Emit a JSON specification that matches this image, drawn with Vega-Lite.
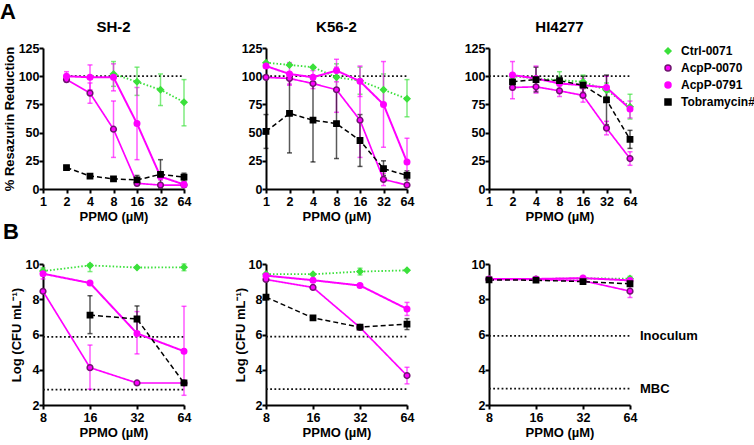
{
"$schema":"https://vega.github.io/schema/vega-lite/v6.json",
"background":"white",
"padding":{"left":0,"top":1,"right":2,"bottom":0},
"title":{"text":"A","anchor":"start","frame":"bounds","fontSize":22,"offset":-4,"dx":-3},
"data":{"name":"pts"},
"datasets":{
"pts":[
{"p":"A1","s":"Ctrl-0071","x":8,"y":102,"lo":91,"hi":113},
{"p":"A1","s":"Ctrl-0071","x":16,"y":95,"lo":83,"hi":108},
{"p":"A1","s":"Ctrl-0071","x":32,"y":88,"lo":74,"hi":102},
{"p":"A1","s":"Ctrl-0071","x":64,"y":77,"lo":56,"hi":97},
{"p":"A1","s":"AcpP-0070","x":2,"y":97,"lo":95,"hi":99},
{"p":"A1","s":"AcpP-0070","x":4,"y":85,"lo":76,"hi":94},
{"p":"A1","s":"AcpP-0070","x":8,"y":53,"lo":28,"hi":78},
{"p":"A1","s":"AcpP-0070","x":16,"y":5,"lo":3,"hi":7},
{"p":"A1","s":"AcpP-0070","x":32,"y":3.5},
{"p":"A1","s":"AcpP-0070","x":64,"y":3.5},
{"p":"A1","s":"AcpP-0791","x":2,"y":100,"lo":96,"hi":104},
{"p":"A1","s":"AcpP-0791","x":4,"y":99,"lo":88,"hi":110},
{"p":"A1","s":"AcpP-0791","x":8,"y":99,"lo":87,"hi":111},
{"p":"A1","s":"AcpP-0791","x":16,"y":58,"lo":26,"hi":90},
{"p":"A1","s":"AcpP-0791","x":32,"y":11,"lo":8,"hi":14},
{"p":"A1","s":"AcpP-0791","x":64,"y":4,"lo":2,"hi":6},
{"p":"A1","s":"Tobramycin#","x":2,"y":19},
{"p":"A1","s":"Tobramycin#","x":4,"y":11.5},
{"p":"A1","s":"Tobramycin#","x":8,"y":9},
{"p":"A1","s":"Tobramycin#","x":16,"y":8,"lo":4,"hi":12},
{"p":"A1","s":"Tobramycin#","x":32,"y":13,"lo":1,"hi":26},
{"p":"A1","s":"Tobramycin#","x":64,"y":10.5,"lo":7,"hi":14},

{"p":"A2","s":"Ctrl-0071","x":1,"y":112},
{"p":"A2","s":"Ctrl-0071","x":2,"y":110},
{"p":"A2","s":"Ctrl-0071","x":4,"y":108},
{"p":"A2","s":"Ctrl-0071","x":8,"y":99,"lo":87,"hi":111},
{"p":"A2","s":"Ctrl-0071","x":16,"y":96,"lo":84,"hi":108},
{"p":"A2","s":"Ctrl-0071","x":32,"y":88,"lo":74,"hi":102},
{"p":"A2","s":"Ctrl-0071","x":64,"y":80,"lo":64,"hi":97},
{"p":"A2","s":"AcpP-0070","x":1,"y":99},
{"p":"A2","s":"AcpP-0070","x":2,"y":98,"lo":93,"hi":103},
{"p":"A2","s":"AcpP-0070","x":4,"y":93.5,"lo":89,"hi":98},
{"p":"A2","s":"AcpP-0070","x":8,"y":88,"lo":68,"hi":108},
{"p":"A2","s":"AcpP-0070","x":16,"y":61,"lo":28,"hi":94},
{"p":"A2","s":"AcpP-0070","x":32,"y":8.5,"lo":3,"hi":14},
{"p":"A2","s":"AcpP-0070","x":64,"y":3.5},
{"p":"A2","s":"AcpP-0791","x":1,"y":109},
{"p":"A2","s":"AcpP-0791","x":2,"y":102,"lo":92,"hi":112},
{"p":"A2","s":"AcpP-0791","x":4,"y":99,"lo":93,"hi":105},
{"p":"A2","s":"AcpP-0791","x":8,"y":105,"lo":95,"hi":115},
{"p":"A2","s":"AcpP-0791","x":16,"y":95.5,"lo":82,"hi":109},
{"p":"A2","s":"AcpP-0791","x":32,"y":75,"lo":37,"hi":113},
{"p":"A2","s":"AcpP-0791","x":64,"y":24,"lo":3,"hi":45},
{"p":"A2","s":"Tobramycin#","x":1,"y":51,"lo":36,"hi":66},
{"p":"A2","s":"Tobramycin#","x":2,"y":67,"lo":32,"hi":102},
{"p":"A2","s":"Tobramycin#","x":4,"y":61,"lo":24,"hi":98},
{"p":"A2","s":"Tobramycin#","x":8,"y":58,"lo":27,"hi":89},
{"p":"A2","s":"Tobramycin#","x":16,"y":43,"lo":20,"hi":66},
{"p":"A2","s":"Tobramycin#","x":32,"y":18,"lo":12,"hi":25},
{"p":"A2","s":"Tobramycin#","x":64,"y":12,"lo":8,"hi":16},

{"p":"A3","s":"Ctrl-0071","x":2,"y":100},
{"p":"A3","s":"Ctrl-0071","x":4,"y":98},
{"p":"A3","s":"Ctrl-0071","x":8,"y":96.5,"lo":89,"hi":104},
{"p":"A3","s":"Ctrl-0071","x":16,"y":95,"lo":89,"hi":101},
{"p":"A3","s":"Ctrl-0071","x":32,"y":87.6,"lo":82,"hi":94},
{"p":"A3","s":"Ctrl-0071","x":64,"y":73,"lo":62,"hi":84},
{"p":"A3","s":"AcpP-0070","x":2,"y":90,"lo":80,"hi":100},
{"p":"A3","s":"AcpP-0070","x":4,"y":90.6,"lo":85,"hi":96},
{"p":"A3","s":"AcpP-0070","x":8,"y":87,"lo":82,"hi":92},
{"p":"A3","s":"AcpP-0070","x":16,"y":83,"lo":77,"hi":89},
{"p":"A3","s":"AcpP-0070","x":32,"y":54,"lo":48,"hi":60},
{"p":"A3","s":"AcpP-0070","x":64,"y":27,"lo":21,"hi":33},
{"p":"A3","s":"AcpP-0791","x":2,"y":101,"lo":88,"hi":113},
{"p":"A3","s":"AcpP-0791","x":4,"y":98,"lo":87,"hi":109},
{"p":"A3","s":"AcpP-0791","x":8,"y":93.5,"lo":89,"hi":98},
{"p":"A3","s":"AcpP-0791","x":16,"y":92,"lo":86,"hi":98},
{"p":"A3","s":"AcpP-0791","x":32,"y":90,"lo":80,"hi":100},
{"p":"A3","s":"AcpP-0791","x":64,"y":71,"lo":63,"hi":78},
{"p":"A3","s":"Tobramycin#","x":2,"y":95,"lo":91,"hi":99},
{"p":"A3","s":"Tobramycin#","x":4,"y":97,"lo":86,"hi":108},
{"p":"A3","s":"Tobramycin#","x":8,"y":96,"lo":93,"hi":99},
{"p":"A3","s":"Tobramycin#","x":16,"y":92,"lo":84,"hi":100},
{"p":"A3","s":"Tobramycin#","x":32,"y":79,"lo":57,"hi":101},
{"p":"A3","s":"Tobramycin#","x":64,"y":44,"lo":36,"hi":52},

{"p":"B1","s":"Ctrl-0071","x":8,"y":9.6,"lo":9.45,"hi":9.78},
{"p":"B1","s":"Ctrl-0071","x":16,"y":9.92,"lo":9.57,"hi":10},
{"p":"B1","s":"Ctrl-0071","x":32,"y":9.8},
{"p":"B1","s":"Ctrl-0071","x":64,"y":9.81,"lo":9.62,"hi":10},
{"p":"B1","s":"AcpP-0070","x":8,"y":8.45},
{"p":"B1","s":"AcpP-0070","x":16,"y":4.12,"lo":2.9,"hi":5.4},
{"p":"B1","s":"AcpP-0070","x":32,"y":3.25},
{"p":"B1","s":"AcpP-0070","x":64,"y":3.25},
{"p":"B1","s":"AcpP-0791","x":8,"y":9.45,"lo":9.15,"hi":9.7},
{"p":"B1","s":"AcpP-0791","x":16,"y":8.92,"lo":8.85,"hi":9.0},
{"p":"B1","s":"AcpP-0791","x":32,"y":6.06,"lo":4.9,"hi":7.3},
{"p":"B1","s":"AcpP-0791","x":64,"y":5.05,"lo":2.55,"hi":7.6},
{"p":"B1","s":"Tobramycin#","x":16,"y":7.1,"lo":6.05,"hi":8.2},
{"p":"B1","s":"Tobramycin#","x":32,"y":6.88,"lo":6.15,"hi":7.62},
{"p":"B1","s":"Tobramycin#","x":64,"y":3.25},

{"p":"B2","s":"Ctrl-0071","x":8,"y":9.43},
{"p":"B2","s":"Ctrl-0071","x":16,"y":9.42},
{"p":"B2","s":"Ctrl-0071","x":32,"y":9.57,"lo":9.38,"hi":9.76},
{"p":"B2","s":"Ctrl-0071","x":64,"y":9.64},
{"p":"B2","s":"AcpP-0070","x":8,"y":9.12},
{"p":"B2","s":"AcpP-0070","x":16,"y":8.67,"lo":8.6,"hi":8.75},
{"p":"B2","s":"AcpP-0070","x":32,"y":6.4},
{"p":"B2","s":"AcpP-0070","x":64,"y":3.67,"lo":3.2,"hi":4.14},
{"p":"B2","s":"AcpP-0791","x":8,"y":9.34},
{"p":"B2","s":"AcpP-0791","x":16,"y":9.08},
{"p":"B2","s":"AcpP-0791","x":32,"y":8.78},
{"p":"B2","s":"AcpP-0791","x":64,"y":7.45,"lo":7.08,"hi":7.82},
{"p":"B2","s":"Tobramycin#","x":8,"y":8.12},
{"p":"B2","s":"Tobramycin#","x":16,"y":6.94},
{"p":"B2","s":"Tobramycin#","x":32,"y":6.42},
{"p":"B2","s":"Tobramycin#","x":64,"y":6.59,"lo":6.28,"hi":6.9},

{"p":"B3","s":"Ctrl-0071","x":8,"y":9.15},
{"p":"B3","s":"Ctrl-0071","x":16,"y":9.15},
{"p":"B3","s":"Ctrl-0071","x":32,"y":9.18},
{"p":"B3","s":"Ctrl-0071","x":64,"y":9.17,"lo":9.05,"hi":9.3},
{"p":"B3","s":"AcpP-0070","x":8,"y":9.12},
{"p":"B3","s":"AcpP-0070","x":16,"y":9.12},
{"p":"B3","s":"AcpP-0070","x":32,"y":9.05},
{"p":"B3","s":"AcpP-0070","x":64,"y":8.46,"lo":8.1,"hi":8.8},
{"p":"B3","s":"AcpP-0791","x":8,"y":9.15},
{"p":"B3","s":"AcpP-0791","x":16,"y":9.15},
{"p":"B3","s":"AcpP-0791","x":32,"y":9.2},
{"p":"B3","s":"AcpP-0791","x":64,"y":9.07},
{"p":"B3","s":"Tobramycin#","x":8,"y":9.1},
{"p":"B3","s":"Tobramycin#","x":16,"y":9.08},
{"p":"B3","s":"Tobramycin#","x":32,"y":9.0},
{"p":"B3","s":"Tobramycin#","x":64,"y":8.88,"lo":8.75,"hi":9.0}
],
"refs":[
{"p":"A1","x":2,"xe":64,"y":100},
{"p":"A2","x":1,"xe":64,"y":100},
{"p":"A3","x":1,"xe":64,"y":100},
{"p":"B1","x":8,"xe":64,"y":5.87},
{"p":"B1","x":8,"xe":64,"y":2.87},
{"p":"B2","x":8,"xe":64,"y":5.88},
{"p":"B2","x":8,"xe":64,"y":2.9},
{"p":"B3","x":8,"xe":64,"y":5.92,"lab":"Inoculum"},
{"p":"B3","x":8,"xe":64,"y":2.93,"lab":"MBC"}
]
},
"columns":3,
"bounds":"flush",
"spacing":{"row":75,"column":82},
"resolve":{
"scale":{"color":"independent","fill":"independent","stroke":"independent","shape":"independent","size":"independent","strokeDash":"independent","strokeWidth":"independent"},
"legend":{"color":"independent","fill":"independent","stroke":"independent","shape":"independent","size":"independent","strokeDash":"independent","strokeWidth":"independent"}
},
"concat":[
{
"width":141,"height":141,
"title":{"text":"SH-2","fontSize":15,"offset":7},
"encoding":{
"x":{"field":"x","type":"quantitative","scale":{"type":"log","base":2,"domain":[1,64],"nice":false},"axis":{"values":[1,2,4,8,16,32,64],"format":"d","title":"PPMO (µM)"}},
"y":{"field":"y","type":"quantitative","scale":{"domain":[0,125],"nice":false,"zero":false},"axis":{"values":[0,25,50,75,100,125],"title":"% Resazurin Reduction"}}
},
"layer":[
{"data":{"name":"refs"},"transform":[{"filter":"datum.p=='A1'"}],"mark":{"type":"rule","strokeDash":[1.8,2.4],"strokeWidth":1.8,"color":"#111111"},"encoding":{"x2":{"field":"xe"}}},
{"transform":[{"filter":"datum.p=='A1' && isValid(datum.lo)"}],"mark":{"type":"errorbar","ticks":true,"thickness":1.5,"opacity":0.65},
"encoding":{"y":{"field":"lo","type":"quantitative","scale":{"domain":[0,125],"nice":false,"zero":false},"axis":{"values":[0,25,50,75,100,125],"title":"% Resazurin Reduction"}},"y2":{"field":"hi"},
"color":{"field":"s","type":"nominal","scale":{"domain":["Tobramycin#","Ctrl-0071","AcpP-0070","AcpP-0791"],"range":["#000000","#3be03b","#ff00ff","#ff00ff"]},"legend":null}}},
{"transform":[{"filter":"datum.p=='A1'"}],"mark":{"type":"line"},
"encoding":{"color":{"field":"s","type":"nominal","scale":{"domain":["Tobramycin#","Ctrl-0071","AcpP-0070","AcpP-0791"],"range":["#000000","#3be03b","#ff00ff","#ff00ff"]},"legend":null},
"strokeDash":{"field":"s","type":"nominal","scale":{"domain":["AcpP-0070","Ctrl-0071","AcpP-0791","Tobramycin#"],"range":[[1,0],[1.5,2],[1,0],[5,3]]},"legend":null},
"strokeWidth":{"field":"s","type":"ordinal","scale":{"domain":["AcpP-0791","Ctrl-0071","AcpP-0070","Tobramycin#"],"range":[2,1.5,2,2]},"legend":null}}},
{"transform":[{"filter":"datum.p=='A1'"}],"mark":{"type":"point","filled":true,"opacity":1,"strokeWidth":1.5},
"encoding":{"fill":{"field":"s","type":"nominal","scale":{"domain":["Ctrl-0071","AcpP-0070","AcpP-0791","Tobramycin#"],"range":["#3be03b","#ff00ff","#ff00ff","#000000"]},"legend":null},
"stroke":{"field":"s","type":"nominal","scale":{"domain":["Ctrl-0071","AcpP-0070","AcpP-0791","Tobramycin#"],"range":["#3be03b","#701570","#ff00ff","#000000"]},"legend":null},
"shape":{"field":"s","type":"nominal","scale":{"domain":["Ctrl-0071","AcpP-0070","AcpP-0791","Tobramycin#"],"range":["diamond","circle","circle","square"]},"legend":null},
"size":{"field":"s","type":"ordinal","scale":{"domain":["Tobramycin#","AcpP-0791","AcpP-0070","Ctrl-0071"],"range":[28,35,50,25]},"legend":null}}}
]
},
{
"width":141,"height":141,
"title":{"text":"K56-2","fontSize":15,"offset":7},
"encoding":{
"x":{"field":"x","type":"quantitative","scale":{"type":"log","base":2,"domain":[1,64],"nice":false},"axis":{"values":[1,2,4,8,16,32,64],"format":"d","title":"PPMO (µM)"}},
"y":{"field":"y","type":"quantitative","scale":{"domain":[0,125],"nice":false,"zero":false},"axis":{"values":[0,25,50,75,100,125],"title":null}}
},
"layer":[
{"data":{"name":"refs"},"transform":[{"filter":"datum.p=='A2'"}],"mark":{"type":"rule","strokeDash":[1.8,2.4],"strokeWidth":1.8,"color":"#111111"},"encoding":{"x2":{"field":"xe"}}},
{"transform":[{"filter":"datum.p=='A2' && isValid(datum.lo)"}],"mark":{"type":"errorbar","ticks":true,"thickness":1.5,"opacity":0.65},
"encoding":{"y":{"field":"lo","type":"quantitative","scale":{"domain":[0,125],"nice":false,"zero":false},"axis":{"values":[0,25,50,75,100,125],"title":null}},"y2":{"field":"hi"},
"color":{"field":"s","type":"nominal","scale":{"domain":["Tobramycin#","Ctrl-0071","AcpP-0070","AcpP-0791"],"range":["#000000","#3be03b","#ff00ff","#ff00ff"]},"legend":null}}},
{"transform":[{"filter":"datum.p=='A2'"}],"mark":{"type":"line"},
"encoding":{"color":{"field":"s","type":"nominal","scale":{"domain":["Tobramycin#","Ctrl-0071","AcpP-0070","AcpP-0791"],"range":["#000000","#3be03b","#ff00ff","#ff00ff"]},"legend":null},
"strokeDash":{"field":"s","type":"nominal","scale":{"domain":["AcpP-0070","Ctrl-0071","AcpP-0791","Tobramycin#"],"range":[[1,0],[1.5,2],[1,0],[5,3]]},"legend":null},
"strokeWidth":{"field":"s","type":"ordinal","scale":{"domain":["AcpP-0791","Ctrl-0071","AcpP-0070","Tobramycin#"],"range":[2,1.5,2,2]},"legend":null}}},
{"transform":[{"filter":"datum.p=='A2'"}],"mark":{"type":"point","filled":true,"opacity":1,"strokeWidth":1.5},
"encoding":{"fill":{"field":"s","type":"nominal","scale":{"domain":["Ctrl-0071","AcpP-0070","AcpP-0791","Tobramycin#"],"range":["#3be03b","#ff00ff","#ff00ff","#000000"]},"legend":null},
"stroke":{"field":"s","type":"nominal","scale":{"domain":["Ctrl-0071","AcpP-0070","AcpP-0791","Tobramycin#"],"range":["#3be03b","#701570","#ff00ff","#000000"]},"legend":null},
"shape":{"field":"s","type":"nominal","scale":{"domain":["Ctrl-0071","AcpP-0070","AcpP-0791","Tobramycin#"],"range":["diamond","circle","circle","square"]},"legend":null},
"size":{"field":"s","type":"ordinal","scale":{"domain":["Tobramycin#","AcpP-0791","AcpP-0070","Ctrl-0071"],"range":[28,35,50,25]},"legend":null}}}
]
},
{
"width":141,"height":141,
"title":{"text":"HI4277","fontSize":15,"offset":7},
"encoding":{
"x":{"field":"x","type":"quantitative","scale":{"type":"log","base":2,"domain":[1,64],"nice":false},"axis":{"values":[1,2,4,8,16,32,64],"format":"d","title":"PPMO (µM)"}},
"y":{"field":"y","type":"quantitative","scale":{"domain":[0,125],"nice":false,"zero":false},"axis":{"values":[0,25,50,75,100,125],"title":null}}
},
"layer":[
{"data":{"name":"refs"},"transform":[{"filter":"datum.p=='A3'"}],"mark":{"type":"rule","strokeDash":[1.8,2.4],"strokeWidth":1.8,"color":"#111111"},"encoding":{"x2":{"field":"xe"}}},
{"transform":[{"filter":"datum.p=='A3' && isValid(datum.lo)"}],"mark":{"type":"errorbar","ticks":true,"thickness":1.5,"opacity":0.65},
"encoding":{"y":{"field":"lo","type":"quantitative","scale":{"domain":[0,125],"nice":false,"zero":false},"axis":{"values":[0,25,50,75,100,125],"title":null}},"y2":{"field":"hi"},
"color":{"field":"s","type":"nominal","scale":{"domain":["Tobramycin#","Ctrl-0071","AcpP-0070","AcpP-0791"],"range":["#000000","#3be03b","#ff00ff","#ff00ff"]},"legend":null}}},
{"transform":[{"filter":"datum.p=='A3'"}],"mark":{"type":"line"},
"encoding":{"color":{"field":"s","type":"nominal","scale":{"domain":["Tobramycin#","Ctrl-0071","AcpP-0070","AcpP-0791"],"range":["#000000","#3be03b","#ff00ff","#ff00ff"]},"legend":null},
"strokeDash":{"field":"s","type":"nominal","scale":{"domain":["AcpP-0070","Ctrl-0071","AcpP-0791","Tobramycin#"],"range":[[1,0],[1.5,2],[1,0],[5,3]]},"legend":null},
"strokeWidth":{"field":"s","type":"ordinal","scale":{"domain":["AcpP-0791","Ctrl-0071","AcpP-0070","Tobramycin#"],"range":[2,1.5,2,2]},"legend":null}}},
{"transform":[{"filter":"datum.p=='A3'"}],"mark":{"type":"point","filled":true,"opacity":1,"strokeWidth":1.5},
"encoding":{"fill":{"field":"s","type":"nominal","scale":{"domain":["Ctrl-0071","AcpP-0070","AcpP-0791","Tobramycin#"],"range":["#3be03b","#ff00ff","#ff00ff","#000000"]},
"legend":{"title":null,"orient":"none","legendX":173,"legendY":-3,"labelFontSize":12,"labelFont":"Liberation Sans","labelFontWeight":"bold","labelColor":"#000000","symbolSize":36,"symbolStrokeWidth":1.5,"labelOffset":7,"rowPadding":5}},
"stroke":{"field":"s","type":"nominal","scale":{"domain":["Ctrl-0071","AcpP-0070","AcpP-0791","Tobramycin#"],"range":["#3be03b","#701570","#ff00ff","#000000"]},
"legend":{"title":null,"orient":"none","legendX":173,"legendY":-3,"labelFontSize":12,"labelFont":"Liberation Sans","labelFontWeight":"bold","labelColor":"#000000","symbolSize":36,"symbolStrokeWidth":1.5,"labelOffset":7,"rowPadding":5}},
"shape":{"field":"s","type":"nominal","scale":{"domain":["Ctrl-0071","AcpP-0070","AcpP-0791","Tobramycin#"],"range":["diamond","circle","circle","square"]},
"legend":{"title":null,"orient":"none","legendX":173,"legendY":-3,"labelFontSize":12,"labelFont":"Liberation Sans","labelFontWeight":"bold","labelColor":"#000000","symbolSize":36,"symbolStrokeWidth":1.5,"labelOffset":7,"rowPadding":5}},
"size":{"field":"s","type":"ordinal","scale":{"domain":["Tobramycin#","AcpP-0791","AcpP-0070","Ctrl-0071"],"range":[28,35,50,25]},"legend":null}}}
]
},
{
"width":141,"height":141,
"title":{"text":"B","fontSize":22,"anchor":"start","frame":"bounds","offset":14,"dx":-7},
"encoding":{
"x":{"field":"x","type":"quantitative","scale":{"type":"log","base":2,"domain":[8,64],"nice":false},"axis":{"values":[8,16,32,64],"format":"d","title":"PPMO (µM)"}},
"y":{"field":"y","type":"quantitative","scale":{"domain":[2,10],"nice":false,"zero":false},"axis":{"values":[2,4,6,8,10],"title":"Log (CFU mL⁻¹)"}}
},
"layer":[
{"data":{"name":"refs"},"transform":[{"filter":"datum.p=='B1'"}],"mark":{"type":"rule","strokeDash":[1.8,2.4],"strokeWidth":1.8,"color":"#111111"},"encoding":{"x2":{"field":"xe"}}},
{"transform":[{"filter":"datum.p=='B1' && isValid(datum.lo)"}],"mark":{"type":"errorbar","ticks":true,"thickness":1.5,"opacity":0.65},
"encoding":{"y":{"field":"lo","type":"quantitative","scale":{"domain":[2,10],"nice":false,"zero":false},"axis":{"values":[2,4,6,8,10],"title":"Log (CFU mL⁻¹)"}},"y2":{"field":"hi"},
"color":{"field":"s","type":"nominal","scale":{"domain":["Tobramycin#","Ctrl-0071","AcpP-0070","AcpP-0791"],"range":["#000000","#3be03b","#ff00ff","#ff00ff"]},"legend":null}}},
{"transform":[{"filter":"datum.p=='B1'"}],"mark":{"type":"line"},
"encoding":{"color":{"field":"s","type":"nominal","scale":{"domain":["Tobramycin#","Ctrl-0071","AcpP-0070","AcpP-0791"],"range":["#000000","#3be03b","#ff00ff","#ff00ff"]},"legend":null},
"strokeDash":{"field":"s","type":"nominal","scale":{"domain":["AcpP-0070","Ctrl-0071","AcpP-0791","Tobramycin#"],"range":[[1,0],[1.5,2],[1,0],[5,3]]},"legend":null},
"strokeWidth":{"field":"s","type":"ordinal","scale":{"domain":["AcpP-0791","Ctrl-0071","AcpP-0070","Tobramycin#"],"range":[2,1.5,2,2]},"legend":null}}},
{"transform":[{"filter":"datum.p=='B1'"}],"mark":{"type":"point","filled":true,"opacity":1,"strokeWidth":1.5},
"encoding":{"fill":{"field":"s","type":"nominal","scale":{"domain":["Ctrl-0071","AcpP-0070","AcpP-0791","Tobramycin#"],"range":["#3be03b","#ff00ff","#ff00ff","#000000"]},"legend":null},
"stroke":{"field":"s","type":"nominal","scale":{"domain":["Ctrl-0071","AcpP-0070","AcpP-0791","Tobramycin#"],"range":["#3be03b","#701570","#ff00ff","#000000"]},"legend":null},
"shape":{"field":"s","type":"nominal","scale":{"domain":["Ctrl-0071","AcpP-0070","AcpP-0791","Tobramycin#"],"range":["diamond","circle","circle","square"]},"legend":null},
"size":{"field":"s","type":"ordinal","scale":{"domain":["Tobramycin#","AcpP-0791","AcpP-0070","Ctrl-0071"],"range":[28,35,50,25]},"legend":null}}}
]
},
{
"width":141,"height":141,
"encoding":{
"x":{"field":"x","type":"quantitative","scale":{"type":"log","base":2,"domain":[8,64],"nice":false},"axis":{"values":[8,16,32,64],"format":"d","title":"PPMO (µM)"}},
"y":{"field":"y","type":"quantitative","scale":{"domain":[2,10],"nice":false,"zero":false},"axis":{"values":[2,4,6,8,10],"title":"Log (CFU mL⁻¹)","titlePadding":1}}
},
"layer":[
{"data":{"name":"refs"},"transform":[{"filter":"datum.p=='B2'"}],"mark":{"type":"rule","strokeDash":[1.8,2.4],"strokeWidth":1.8,"color":"#111111"},"encoding":{"x2":{"field":"xe"}}},
{"transform":[{"filter":"datum.p=='B2' && isValid(datum.lo)"}],"mark":{"type":"errorbar","ticks":true,"thickness":1.5,"opacity":0.65},
"encoding":{"y":{"field":"lo","type":"quantitative","scale":{"domain":[2,10],"nice":false,"zero":false},"axis":{"values":[2,4,6,8,10],"title":"Log (CFU mL⁻¹)","titlePadding":1}},"y2":{"field":"hi"},
"color":{"field":"s","type":"nominal","scale":{"domain":["Tobramycin#","Ctrl-0071","AcpP-0070","AcpP-0791"],"range":["#000000","#3be03b","#ff00ff","#ff00ff"]},"legend":null}}},
{"transform":[{"filter":"datum.p=='B2'"}],"mark":{"type":"line"},
"encoding":{"color":{"field":"s","type":"nominal","scale":{"domain":["Tobramycin#","Ctrl-0071","AcpP-0070","AcpP-0791"],"range":["#000000","#3be03b","#ff00ff","#ff00ff"]},"legend":null},
"strokeDash":{"field":"s","type":"nominal","scale":{"domain":["AcpP-0070","Ctrl-0071","AcpP-0791","Tobramycin#"],"range":[[1,0],[1.5,2],[1,0],[5,3]]},"legend":null},
"strokeWidth":{"field":"s","type":"ordinal","scale":{"domain":["AcpP-0791","Ctrl-0071","AcpP-0070","Tobramycin#"],"range":[2,1.5,2,2]},"legend":null}}},
{"transform":[{"filter":"datum.p=='B2'"}],"mark":{"type":"point","filled":true,"opacity":1,"strokeWidth":1.5},
"encoding":{"fill":{"field":"s","type":"nominal","scale":{"domain":["Ctrl-0071","AcpP-0070","AcpP-0791","Tobramycin#"],"range":["#3be03b","#ff00ff","#ff00ff","#000000"]},"legend":null},
"stroke":{"field":"s","type":"nominal","scale":{"domain":["Ctrl-0071","AcpP-0070","AcpP-0791","Tobramycin#"],"range":["#3be03b","#701570","#ff00ff","#000000"]},"legend":null},
"shape":{"field":"s","type":"nominal","scale":{"domain":["Ctrl-0071","AcpP-0070","AcpP-0791","Tobramycin#"],"range":["diamond","circle","circle","square"]},"legend":null},
"size":{"field":"s","type":"ordinal","scale":{"domain":["Tobramycin#","AcpP-0791","AcpP-0070","Ctrl-0071"],"range":[28,35,50,25]},"legend":null}}}
]
},
{
"width":141,"height":141,
"encoding":{
"x":{"field":"x","type":"quantitative","scale":{"type":"log","base":2,"domain":[8,64],"nice":false},"axis":{"values":[8,16,32,64],"format":"d","title":"PPMO (µM)"}},
"y":{"field":"y","type":"quantitative","scale":{"domain":[2,10],"nice":false,"zero":false},"axis":{"values":[2,4,6,8,10],"title":null}}
},
"layer":[
{"data":{"name":"refs"},"transform":[{"filter":"datum.p=='B3'"}],"mark":{"type":"rule","strokeDash":[1.8,2.4],"strokeWidth":1.8,"color":"#111111"},"encoding":{"x2":{"field":"xe"}}},
{"data":{"name":"refs"},"transform":[{"filter":"datum.p=='B3'"}],"mark":{"type":"text","align":"left","dx":10,"fontSize":13,"fontWeight":"bold","font":"Liberation Sans","color":"#000000"},
"encoding":{"x":{"field":"xe","type":"quantitative","scale":{"type":"log","base":2,"domain":[8,64],"nice":false},"axis":{"values":[8,16,32,64],"format":"d","title":"PPMO (µM)"}},"text":{"field":"lab"}}},
{"transform":[{"filter":"datum.p=='B3' && isValid(datum.lo)"}],"mark":{"type":"errorbar","ticks":true,"thickness":1.5,"opacity":0.65},
"encoding":{"y":{"field":"lo","type":"quantitative","scale":{"domain":[2,10],"nice":false,"zero":false},"axis":{"values":[2,4,6,8,10],"title":null}},"y2":{"field":"hi"},
"color":{"field":"s","type":"nominal","scale":{"domain":["Tobramycin#","Ctrl-0071","AcpP-0070","AcpP-0791"],"range":["#000000","#3be03b","#ff00ff","#ff00ff"]},"legend":null}}},
{"transform":[{"filter":"datum.p=='B3'"}],"mark":{"type":"line"},
"encoding":{"color":{"field":"s","type":"nominal","scale":{"domain":["Tobramycin#","Ctrl-0071","AcpP-0070","AcpP-0791"],"range":["#000000","#3be03b","#ff00ff","#ff00ff"]},"legend":null},
"strokeDash":{"field":"s","type":"nominal","scale":{"domain":["AcpP-0070","Ctrl-0071","AcpP-0791","Tobramycin#"],"range":[[1,0],[1.5,2],[1,0],[5,3]]},"legend":null},
"strokeWidth":{"field":"s","type":"ordinal","scale":{"domain":["AcpP-0791","Ctrl-0071","AcpP-0070","Tobramycin#"],"range":[2,1.5,2,2]},"legend":null}}},
{"transform":[{"filter":"datum.p=='B3'"}],"mark":{"type":"point","filled":true,"opacity":1,"strokeWidth":1.5},
"encoding":{"fill":{"field":"s","type":"nominal","scale":{"domain":["Ctrl-0071","AcpP-0070","AcpP-0791","Tobramycin#"],"range":["#3be03b","#ff00ff","#ff00ff","#000000"]},"legend":null},
"stroke":{"field":"s","type":"nominal","scale":{"domain":["Ctrl-0071","AcpP-0070","AcpP-0791","Tobramycin#"],"range":["#3be03b","#701570","#ff00ff","#000000"]},"legend":null},
"shape":{"field":"s","type":"nominal","scale":{"domain":["Ctrl-0071","AcpP-0070","AcpP-0791","Tobramycin#"],"range":["diamond","circle","circle","square"]},"legend":null},
"size":{"field":"s","type":"ordinal","scale":{"domain":["Tobramycin#","AcpP-0791","AcpP-0070","Ctrl-0071"],"range":[28,35,50,25]},"legend":null}}}
]
}
],
"config":{
"font":"Liberation Sans",
"view":{"stroke":null},
"title":{"font":"Liberation Sans","fontWeight":"bold","color":"#000000"},
"axis":{"grid":false,"domainColor":"#000000","domainWidth":2,"tickColor":"#000000","tickWidth":2,"tickSize":4,"labelColor":"#000000","labelFont":"Liberation Sans","labelFontWeight":"bold","labelFontSize":12.5,"titleFont":"Liberation Sans","titleFontWeight":"bold","titleFontSize":13,"titleColor":"#000000","labelPadding":0,"labelOverlap":false},
"axisX":{"labelFlush":false,"titlePadding":3,"labelPadding":2},
"axisY":{"titlePadding":2},
"errorbar":{"ticks":true}
}
}
